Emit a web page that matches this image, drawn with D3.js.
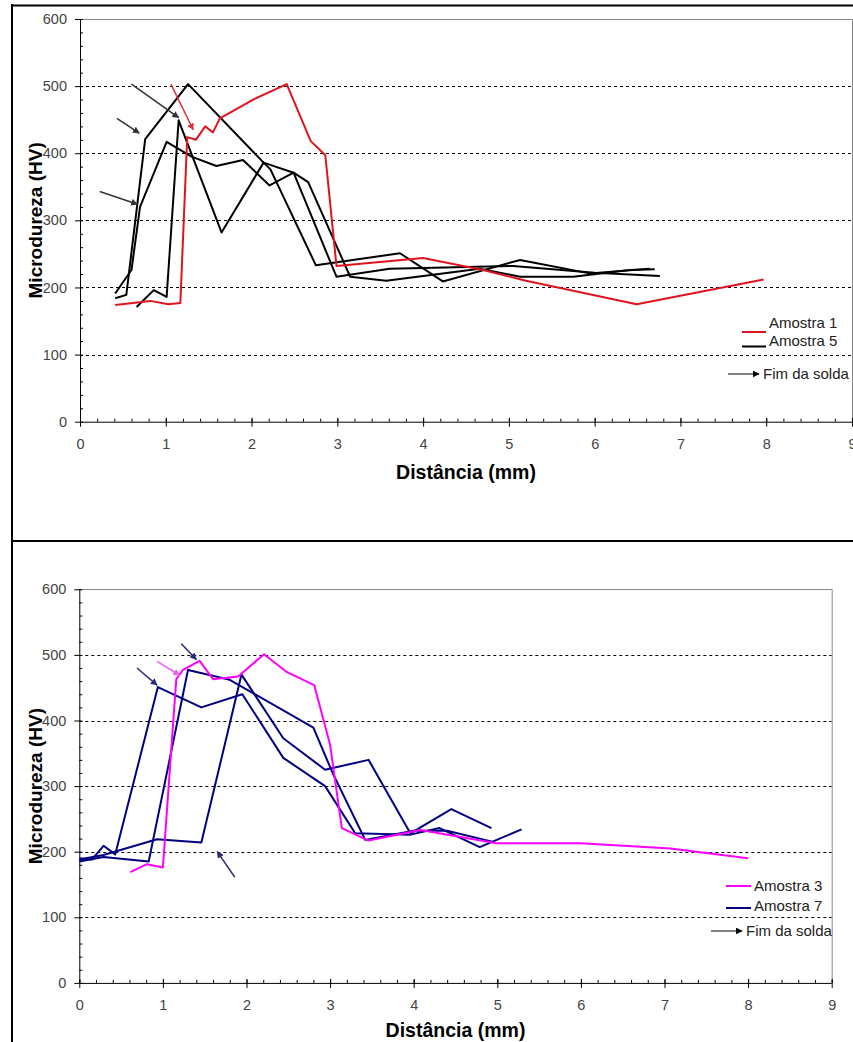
<!DOCTYPE html>
<html>
<head>
<meta charset="utf-8">
<script src="https://cdn.jsdelivr.net/npm/d3@7"></script>
<style>
	body { margin: 0; background: #fff; }
	svg { display: block; font-family: "Liberation Sans", Arial, sans-serif; }
</style>
</head>
<body>
<div id="chart"></div>
<script>
// tick values
var xTicks = [0, 1, 2, 3, 4, 5, 6, 7, 8, 9];
var yTicks = [0, 100, 200, 300, 400, 500, 600];

// top chart: Amostra 1 (red) and Amostra 5 (black, three profiles)
var amostra1 = [[0.41, 174], [0.82, 180], [1.03, 175], [1.17, 177], [1.25, 424], [1.35, 420], [1.46, 440], [1.55, 431], [1.63, 452], [2.02, 480], [2.41, 503], [2.69, 418], [2.86, 397], [2.99, 232], [4.0, 244], [4.7, 226], [5.2, 210], [6.49, 175], [7.97, 212]];
var amostra5a = [[0.41, 184], [0.54, 189], [0.76, 421], [1.26, 503], [2.14, 386], [2.49, 371], [2.66, 357], [3.15, 216], [3.57, 210], [4.66, 228], [5.13, 216], [5.75, 216], [6.41, 226], [6.7, 227]];
var amostra5b = [[0.66, 171], [0.86, 196], [1.01, 186], [1.15, 449], [1.65, 282], [2.14, 386], [2.22, 376], [2.75, 233], [3.73, 251], [4.23, 209], [5.13, 241], [5.94, 221], [6.64, 228]];
var amostra5c = [[0.41, 191], [0.6, 226], [0.7, 320], [1.01, 417], [1.3, 395], [1.59, 381], [1.9, 390], [2.21, 352], [2.49, 371], [2.99, 216], [3.61, 228], [5.05, 232], [6.0, 222], [6.76, 217]];
// arrows [x1, y1, x2, y2] in data units
var arrowsTop = [[0.43, 452, 0.69, 430], [0.23, 343, 0.67, 324], [0.6, 503, 1.15, 453]];
var arrowsTopRed = [[1.06, 503, 1.32, 435]];

// bottom chart: Amostra 3 (magenta) and Amostra 7 (navy, three profiles)
var amostra3 = [[0.61, 169], [0.81, 181], [1.0, 176], [1.16, 463], [1.24, 477], [1.44, 491], [1.6, 463], [1.9, 467], [2.21, 501], [2.48, 474], [2.81, 454], [3.0, 363], [3.14, 236], [3.46, 217], [4.08, 233], [4.99, 213], [6.0, 213], [7.07, 205], [8.0, 190]];
var amostra7a = [[0, 190], [0.15, 188], [0.29, 209], [0.43, 196], [0.94, 451], [1.46, 420], [1.95, 440], [2.44, 343], [2.94, 300], [3.3, 228], [3.96, 226], [4.31, 236], [4.79, 207], [5.29, 234]];
var amostra7b = [[0, 185], [0.29, 192], [0.83, 185], [1.3, 477], [1.8, 462], [2.8, 389], [3.03, 320], [3.42, 218], [4.0, 232], [4.4, 232], [4.95, 215]];
var amostra7c = [[0, 188], [0.29, 195], [0.93, 219], [1.46, 214], [1.94, 470], [2.44, 373], [2.94, 325], [3.46, 340], [3.96, 228], [4.45, 265], [4.93, 236]];
var arrowsBottom = [[0.69, 480, 0.93, 454], [1.22, 517, 1.4, 493], [1.86, 161, 1.65, 200]];
var arrowsBottomPink = [[0.93, 490, 1.2, 469]];

var svg = d3.select('#chart').append('svg')
	.attr('width', 853)
	.attr('height', 1042);

var defs = svg.append('defs');

function addMarker(id, color) {
	defs.append('marker')
		.attr('id', id)
		.attr('viewBox', '0 0 10 10')
		.attr('refX', 9)
		.attr('refY', 5)
		.attr('markerWidth', 7)
		.attr('markerHeight', 7)
		.attr('markerUnits', 'userSpaceOnUse')
		.attr('orient', 'auto')
		.append('path')
		.attr('d', 'M0,0 L10,5 L0,10 Z')
		.attr('fill', color);
}

addMarker('head-dark', '#333');
addMarker('head-red', '#e0303a');
addMarker('head-navy', '#2b2b78');
addMarker('head-pink', '#f060f0');
addMarker('head-black', '#000');

// frame
svg.append('line').attr('x1', 12).attr('x2', 12).attr('y1', 4).attr('y2', 1042)
	.attr('stroke', '#000').attr('stroke-width', 2);
svg.append('line').attr('x1', 12).attr('x2', 853).attr('y1', 5.5).attr('y2', 5.5)
	.attr('stroke', '#000').attr('stroke-width', 2);
svg.append('line').attr('x1', 12).attr('x2', 853).attr('y1', 541).attr('y2', 541)
	.attr('stroke', '#000').attr('stroke-width', 2);

function drawPanel(opt) {
	var x = d3.scaleLinear().domain([0, 9]).range([opt.left, opt.right]);
	var y = d3.scaleLinear().domain([0, 600]).range([opt.bottom, opt.top]);
	var g = svg.append('g');

	// grid lines
	g.selectAll('.grid')
		.data(yTicks.filter(function(d) { return d > 0 && d < 600; }))
		.enter()
		.append('line')
		.attr('x1', opt.left)
		.attr('x2', opt.right)
		.attr('y1', function(d) { return Math.round(y(d)) + 0.5; })
		.attr('y2', function(d) { return Math.round(y(d)) + 0.5; })
		.attr('stroke', '#000')
		.attr('stroke-dasharray', '3,3');

	// plot area border (top and right)
	g.append('path')
		.attr('d', 'M' + opt.left + ',' + (Math.round(opt.top) + 0.5) + 'H' + (opt.right + 0.5) + 'V' + opt.bottom)
		.attr('fill', 'none')
		.attr('stroke', '#888');

	// minor ticks
	var yAxisMinor = d3.axisRight(y).tickValues(d3.range(0, 601, 20)).tickSize(3).tickFormat('');
	g.append('g')
		.attr('transform', 'translate(' + opt.left + ',0)')
		.call(yAxisMinor)
		.call(function(s) { s.select('.domain').remove(); s.selectAll('line').attr('stroke', '#000'); });

	var xAxisMinor = d3.axisTop(x).tickValues(d3.range(0, 9.01, 0.2)).tickSize(3).tickFormat('');
	g.append('g')
		.attr('transform', 'translate(0,' + opt.bottom + ')')
		.call(xAxisMinor)
		.call(function(s) { s.select('.domain').remove(); s.selectAll('line').attr('stroke', '#000'); });

	// major axes
	var yAxis = d3.axisLeft(y).tickValues(yTicks).tickSize(5).tickPadding(8);
	g.append('g')
		.attr('transform', 'translate(' + opt.left + ',0)')
		.call(yAxis)
		.call(function(s) {
			s.select('.domain').attr('stroke', '#000').attr('d', 'M0.5,' + opt.top + 'V' + opt.bottom);
			s.selectAll('line').attr('stroke', '#000');
			s.selectAll('text').attr('fill', '#444').style('font-size', '14.5px');
		});

	var xAxis = d3.axisBottom(x).tickValues(xTicks).tickSize(5).tickPadding(12);
	g.append('g')
		.attr('transform', 'translate(0,' + opt.bottom + ')')
		.call(xAxis)
		.call(function(s) {
			s.select('.domain').attr('stroke', '#000').attr('d', 'M' + opt.left + ',0.5H' + opt.right);
			s.selectAll('line').attr('stroke', '#000').attr('y1', -4);
			s.selectAll('text').attr('fill', '#444').style('font-size', '14.5px');
		});

	// axis titles
	g.append('text')
		.attr('transform', 'translate(42,' + ((opt.top + opt.bottom) / 2) + ') rotate(-90)')
		.attr('text-anchor', 'middle')
		.style('font-size', '19px')
		.style('font-weight', 'bold')
		.text('Microdureza (HV)');

	g.append('text')
		.attr('x', (opt.left + opt.right) / 2)
		.attr('y', opt.bottom + opt.titleGap)
		.attr('text-anchor', 'middle')
		.style('font-size', '19.5px')
		.style('font-weight', 'bold')
		.text('Distância (mm)');

	var line = d3.line()
		.x(function(d) { return x(d[0]); })
		.y(function(d) { return y(d[1]); });

	opt.series.forEach(function(s) {
		g.append('path')
			.datum(s.data)
			.attr('d', line)
			.attr('fill', 'none')
			.attr('stroke', s.color)
			.attr('stroke-width', 2)
			.attr('stroke-linejoin', 'round');
	});

	opt.arrows.forEach(function(a) {
		g.selectAll(null)
			.data(a.data)
			.enter()
			.append('line')
			.attr('x1', function(d) { return x(d[0]); })
			.attr('y1', function(d) { return y(d[1]); })
			.attr('x2', function(d) { return x(d[2]); })
			.attr('y2', function(d) { return y(d[3]); })
			.attr('stroke', a.color)
			.attr('stroke-width', 1.5)
			.attr('marker-end', 'url(#' + a.marker + ')');
	});

	// legend
	var lg = g.append('g');
	opt.legend.forEach(function(item) {
		lg.append('line')
			.attr('x1', opt.legendX).attr('x2', opt.legendX + opt.legendLine)
			.attr('y1', item.lineY).attr('y2', item.lineY)
			.attr('stroke', item.color)
			.attr('stroke-width', 2);
		lg.append('text')
			.attr('x', opt.legendX + opt.legendLine + 3)
			.attr('y', item.textY)
			.style('font-size', '15px')
			.attr('fill', '#222')
			.text(item.name);
	});

	lg.append('line')
		.attr('x1', opt.fimX).attr('x2', opt.fimX + 31)
		.attr('y1', opt.fimY).attr('y2', opt.fimY)
		.attr('stroke', '#000')
		.attr('stroke-width', 1)
		.attr('marker-end', 'url(#head-black)');
	lg.append('text')
		.attr('x', opt.fimX + 35)
		.attr('y', opt.fimY + 5)
		.style('font-size', '15px')
		.attr('fill', '#222')
		.text('Fim da solda');
}

drawPanel({
	left: 80,
	right: 852,
	top: 19,
	bottom: 421.7,
	titleGap: 57,
	series: [
		{ data: amostra5a, color: '#000' },
		{ data: amostra5b, color: '#000' },
		{ data: amostra5c, color: '#000' },
		{ data: amostra1, color: '#e0141e' }
	],
	arrows: [
		{ data: arrowsTop, color: '#333', marker: 'head-dark' },
		{ data: arrowsTopRed, color: '#e0303a', marker: 'head-red' }
	],
	legend: [
		{ name: 'Amostra 1', color: '#e0141e', lineY: 332, textY: 328 },
		{ name: 'Amostra 5', color: '#000', lineY: 346.5, textY: 346 }
	],
	legendX: 742,
	legendLine: 24,
	fimX: 728,
	fimY: 374
});

drawPanel({
	left: 79.3,
	right: 831.7,
	top: 589.3,
	bottom: 982.9,
	titleGap: 54,
	series: [
		{ data: amostra7a, color: '#000080' },
		{ data: amostra7b, color: '#000080' },
		{ data: amostra7c, color: '#000080' },
		{ data: amostra3, color: '#ff00ff' }
	],
	arrows: [
		{ data: arrowsBottom, color: '#2b2b78', marker: 'head-navy' },
		{ data: arrowsBottomPink, color: '#f060f0', marker: 'head-pink' }
	],
	legend: [
		{ name: 'Amostra 3', color: '#ff00ff', lineY: 886, textY: 891 },
		{ name: 'Amostra 7', color: '#000080', lineY: 908, textY: 911 }
	],
	legendX: 726,
	legendLine: 25,
	fimX: 711,
	fimY: 931
});
</script>
</body>
</html>
